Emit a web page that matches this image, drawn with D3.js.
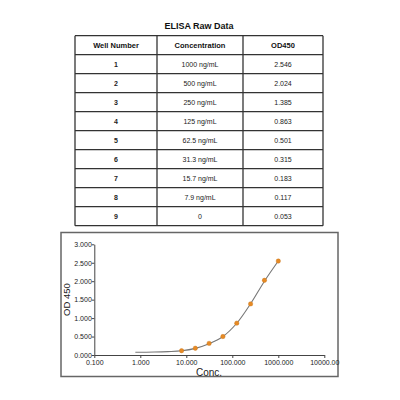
<!DOCTYPE html>
<html><head><meta charset="utf-8">
<script src="https://cdn.jsdelivr.net/npm/d3@7"></script>
<style>
html,body{margin:0;padding:0;background:#fff;}
svg{display:block;font-family:"Liberation Sans",Arial,sans-serif;}
</style></head>
<body><svg id="c" width="400" height="400"></svg>
<script>
const title = "ELISA Raw Data";
const headers = ["Well Number", "Concentration", "OD450"];
const wells = ["1","2","3","4","5","6","7","8","9"];
const concLabels = ["1000 ng/mL","500 ng/mL","250 ng/mL","125 ng/mL","62.5 ng/mL","31.3 ng/mL","15.7 ng/mL","7.9 ng/mL","0"];
const odLabels = ["2.546","2.024","1.385","0.863","0.501","0.315","0.183","0.117","0.053"];
const conc = [1000, 500, 250, 125, 62.5, 31.3, 15.7, 7.9];
const od = [2.546, 2.024, 1.385, 0.863, 0.501, 0.315, 0.183, 0.117];
// fitted curve
const fitConc = [0.78, 2, 4, 7.9, 15.7, 31.3, 62.5, 125, 250, 500, 1000];
const fitOd = [0.073, 0.08, 0.092, 0.114, 0.18, 0.305, 0.5, 0.86, 1.39, 2.0, 2.546];
const xTicks = [0.1, 1, 10, 100, 1000, 10000];
const xTickLabels = ["0.100","1.000","10.000","100.000","1000.000","10000.00"];
const yTicks = [0, 0.5, 1, 1.5, 2, 2.5, 3];
const xTitle = "Conc.";
const yTitle = "OD 450";

const svg = d3.select("#c");

// ---- table ----
svg.append("text").attr("x", 199).attr("y", 29).attr("text-anchor","middle")
  .attr("font-size", 9).attr("font-weight","bold").attr("fill","#111").text(title);

const colX = [75, 157, 243, 323];
const rowH = 19, tTop = 35.7;
const nRows = wells.length + 1;
const g = svg.append("g");
g.selectAll("line.h").data(d3.range(nRows + 1)).join("line").attr("class","h")
  .attr("x1", colX[0]).attr("x2", colX[3])
  .attr("y1", d => tTop + d * rowH).attr("y2", d => tTop + d * rowH)
  .attr("stroke", "#333").attr("stroke-width", 1.3);
g.selectAll("line.v").data(colX).join("line").attr("class","v")
  .attr("x1", d => d).attr("x2", d => d)
  .attr("y1", tTop).attr("y2", tTop + nRows * rowH)
  .attr("stroke", "#333").attr("stroke-width", 1.3);
const colC = [(colX[0]+colX[1])/2, (colX[1]+colX[2])/2, (colX[2]+colX[3])/2];
g.selectAll("text.hd").data(headers).join("text").attr("class","hd")
  .attr("x", (d,i) => colC[i]).attr("y", tTop + rowH/2 + 3)
  .attr("text-anchor","middle").attr("font-size", 7.5).attr("font-weight","bold").attr("fill","#111")
  .text(d => d);
const cols = [wells, concLabels, odLabels];
cols.forEach((arr, ci) => {
  g.selectAll("text.c" + ci).data(arr).join("text").attr("class","c"+ci)
    .attr("x", colC[ci]).attr("y", (d,i) => tTop + (i+1)*rowH + rowH/2 + 2.7)
    .attr("text-anchor","middle").attr("font-size", 7).attr("fill","#222")
    .attr("font-weight", ci === 0 ? "bold" : "normal")
    .text(d => d);
});

// ---- chart ----
svg.append("rect").attr("x", 61).attr("y", 232.5).attr("width", 277).attr("height", 144)
  .attr("fill","none").attr("stroke","#666").attr("stroke-width", 1.5);

const x = d3.scaleLog().domain([0.1, 10000]).range([94.3, 324.3]);
const y = d3.scaleLinear().domain([0, 3]).range([355, 244.3]);

const xAxis = svg.append("g").attr("transform", "translate(0,355)")
  .call(d3.axisBottom(x).tickValues(xTicks).tickFormat((d,i) => xTickLabels[i]).tickSize(3).tickSizeOuter(0));
const yAxis = svg.append("g").attr("transform", "translate(94.3,0)")
  .call(d3.axisLeft(y).tickValues(yTicks).tickFormat(d3.format(".3f")).tickSize(2.5).tickSizeOuter(0));
[xAxis, yAxis].forEach(a => {
  a.select(".domain").attr("stroke","#444").attr("stroke-width",1);
  a.selectAll(".tick line").attr("stroke","#444");
  a.selectAll("text").attr("font-size", 7).attr("fill","#222")
    .attr("font-family","Liberation Sans, Arial, sans-serif");
});
xAxis.selectAll("text").attr("dy", "0.6em");
yAxis.selectAll("text").attr("x", -2.5);

svg.append("text").attr("x", 209).attr("y", 376).attr("text-anchor","middle")
  .attr("font-size", 10).attr("fill","#222").text(xTitle);
svg.append("text").attr("transform","translate(69.5,299.5) rotate(-90)").attr("text-anchor","middle")
  .attr("font-size", 9.5).attr("fill","#222").text(yTitle);

const fit = fitConc.map((c,i) => [c, fitOd[i]]);
svg.append("path").datum(fit)
  .attr("d", d3.line().x(d => x(d[0])).y(d => y(d[1])).curve(d3.curveCatmullRom.alpha(0.5)))
  .attr("fill","none").attr("stroke","#777").attr("stroke-width",1.1);

svg.selectAll("circle.pt").data(conc).join("circle").attr("class","pt")
  .attr("cx", d => x(d)).attr("cy", (d,i) => y(od[i])).attr("r", 2.2)
  .attr("fill","#e68a25").attr("stroke","#c8741a").attr("stroke-width",0.4);
</script></body></html>
